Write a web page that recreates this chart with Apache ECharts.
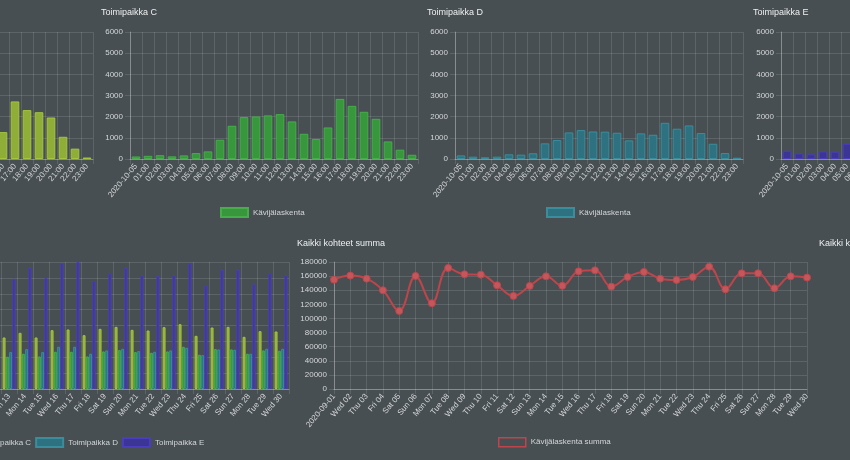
<!DOCTYPE html>
<html>
<head>
<meta charset="utf-8">
<script src="https://cdn.jsdelivr.net/npm/echarts@6/dist/echarts.min.js"></script>
<style>
html,body{margin:0;padding:0;background:#474f53;overflow:hidden;width:850px;height:460px;position:relative;}
#c{position:absolute;left:-260px;top:0;width:1370px;height:460px;}
</style>
</head>
<body>
<div id="c"></div>
<script>
// ---- data ----
const hours = ['2020-10-05','01:00','02:00','03:00','04:00','05:00','06:00','07:00','08:00','09:00','10:00','11:00','12:00','13:00','14:00','15:00','16:00','17:00','18:00','19:00','20:00','21:00','22:00','23:00'];
const hourlyB = [150,120,100,110,150,250,420,900,1500,1900,2000,2050,2100,1900,1500,1250,1270,2720,2310,2210,1960,1050,490,70];
const hourlyC = [120,150,180,125,170,280,360,910,1570,1980,2010,2060,2120,1775,1190,940,1490,2840,2510,2230,1900,830,440,200];
const hourlyD = [170,110,80,110,220,205,270,740,895,1255,1365,1300,1290,1240,880,1210,1145,1710,1430,1585,1225,720,280,60];
const hourlyE = [390,265,220,360,345,720,1300,2400,3300,4000,4200,4300,4400,4000,3200,3000,3600,5000,4500,4200,3600,2000,1100,500];

const days = ['2020-09-01','Wed 02','Thu 03','Fri 04','Sat 05','Sun 06','Mon 07','Tue 08','Wed 09','Thu 10','Fri 11','Sat 12','Sun 13','Mon 14','Tue 15','Wed 16','Thu 17','Fri 18','Sat 19','Sun 20','Mon 21','Tue 22','Wed 23','Thu 24','Fri 25','Sat 26','Sun 27','Mon 28','Tue 29','Wed 30'];
const dailyB = [36400,37800,36800,32900,26000,37600,28600,40300,38200,38100,34500,31000,32460,35400,32460,37060,37500,33900,37900,39160,37270,36860,38950,40830,33500,38740,39160,32870,36430,36230];
const dailyC = [22900,23800,23100,20700,16400,23700,18000,25400,24100,24000,21800,19500,20300,22200,20500,23450,23450,20500,23660,24500,23240,22800,23660,26600,21570,25130,24920,22200,24300,24080];
const dailyD = [24000,24900,24200,21700,17200,24800,18800,26600,25200,25100,22800,20400,23240,25100,23240,26600,26600,22200,24300,25340,23870,23450,24300,25970,21360,24920,24700,22200,25340,25340];
const dailyE = [71700,74200,72300,64600,51100,74100,56200,79200,75100,74900,67900,61000,69500,76200,69900,79400,80000,68060,72900,76200,71800,71200,71800,79150,65100,74960,74960,65960,72900,71800];
const dailyTotal = [155000,160700,156400,139900,110700,160200,121600,171500,162600,162100,147000,131900,146100,159700,146300,166800,168200,145100,158800,165900,156400,154600,158800,173400,141400,164000,164000,142800,159700,157900];

const siteNames = ['Toimipaikka B','Toimipaikka C','Toimipaikka D','Toimipaikka E'];
const countLabel = 'Kävijälaskenta';
const sumLabel = 'Kävijälaskenta summa';
const sumTitle = 'Kaikki kohteet summa';

// ---- styling ----
const OFF = 260; // chart canvas starts 260px left of the visible window
const FONT = "'Liberation Sans', Arial, sans-serif";
const GRID_C = 'rgba(255,255,255,0.12)';
const AXIS_C = 'rgba(255,255,255,0.26)';
const TXT = '#d4d6d7';
const fills = ['#8fae38','#38973d','#2e7282','#3b3596'];
const borders = ['#a6c43e','#46ad4a','#3a8d9d','#4c3dc0'];
const lineC = '#bd454b';

function catAxis(gi, data, boundary){
  return {type:'category', gridIndex:gi, data:data, boundaryGap:boundary,
    axisLine:{show:true,lineStyle:{color:AXIS_C}},
    axisTick:{show:true,length:5,lineStyle:{color:GRID_C}},
    splitLine:{show:true,lineStyle:{color:GRID_C}},
    axisLabel:{interval:0,rotate:50,margin:6,color:TXT,fontSize:8,fontFamily:FONT}};
}
function valAxis(gi, max, step){
  return {type:'value', gridIndex:gi, min:0, max:max, interval:step,
    axisLine:{show:true,lineStyle:{color:AXIS_C}},
    axisTick:{show:true,length:5,lineStyle:{color:GRID_C}},
    splitLine:{show:true,lineStyle:{color:GRID_C}},
    axisLabel:{margin:7,color:TXT,fontSize:8,fontFamily:FONT,formatter:v=>String(v)}};
}
function titleAt(text, x, y){
  return {text:text, left:x+OFF, top:y, padding:0,
    textStyle:{color:'#eef0f0',fontSize:9,fontWeight:'normal',fontFamily:FONT}};
}

const topLefts = [-195,130,455,781];
const titleLefts = [-225,101,427,753];
const legendLefts = [-106,220,546,872];
const hourly = [hourlyB,hourlyC,hourlyD,hourlyE];

const grids=[], xAxes=[], yAxes=[], series=[], titles=[], legends=[];
for(let i=0;i<4;i++){
  grids.push({left:topLefts[i]+OFF, top:32, width:288, height:127});
  xAxes.push(catAxis(i, hours, true));
  yAxes.push(valAxis(i, 6000, 1000));
  const nm = countLabel + ' ' + siteNames[i];
  series.push({type:'bar', name:nm, xAxisIndex:i, yAxisIndex:i, data:hourly[i],
    barCategoryGap:'28%',
    itemStyle:{color:fills[i], borderColor:borders[i], borderWidth:1}});
  titles.push(titleAt(siteNames[i], titleLefts[i], 8));
  legends.push({data:[nm], left:legendLefts[i]+OFF, top:207, padding:0,
    itemWidth:27, itemHeight:9, icon:'rect', formatter:()=>countLabel,
    selectedMode:false,
    textStyle:{color:TXT,fontSize:8,fontFamily:FONT}});
}
// bottom-left grouped bars
grids.push({left:-191+OFF, top:262, width:480, height:127});
xAxes.push(catAxis(4, days, true));
yAxes.push(valAxis(4, 80000, 10000));
const daily = [dailyB,dailyC,dailyD,dailyE];
for(let i=0;i<4;i++){
  series.push({type:'bar', name:siteNames[i], xAxisIndex:4, yAxisIndex:4, data:daily[i],
    barCategoryGap:'20%', barGap:'11%',
    itemStyle:{color:fills[i], borderColor:borders[i], borderWidth:1}});
}
legends.push({data:siteNames.slice(), left:-138+OFF, top:437, padding:0, itemGap:4,
  itemWidth:27, itemHeight:9, icon:'rect', selectedMode:false,
  textStyle:{color:TXT,fontSize:8,fontFamily:FONT}});
titles.push(titleAt('Kaikki kohteet', -225, 239));

// middle line chart
grids.push({left:334+OFF, top:262, width:473, height:127});
xAxes.push(catAxis(5, days, false));
yAxes.push(valAxis(5, 180000, 20000));
series.push({type:'line', name:sumLabel, xAxisIndex:5, yAxisIndex:5, data:dailyTotal,
  smooth:0.4, symbol:'circle', symbolSize:7,
  lineStyle:{color:lineC, width:2},
  itemStyle:{color:'#c4575c', borderColor:lineC, borderWidth:1}});
legends.push({data:[{name:sumLabel, icon:'rect', itemStyle:{color:'rgba(0,0,0,0)', borderColor:lineC, borderWidth:1.5}}],
  left:498+OFF, top:437, padding:0, itemWidth:27, itemHeight:9, selectedMode:false,
  textStyle:{color:TXT,fontSize:8,fontFamily:FONT}});
titles.push(titleAt(sumTitle, 297, 239));
titles.push(titleAt('Kaikki kohteet keskiarvo', 819, 239));

const chart = echarts.init(document.getElementById('c'), null, {renderer:'canvas'});
chart.setOption({
  backgroundColor:'#474f53',
  animation:false,
  title:titles, legend:legends, grid:grids, xAxis:xAxes, yAxis:yAxes, series:series
});
</script>
</body>
</html>
